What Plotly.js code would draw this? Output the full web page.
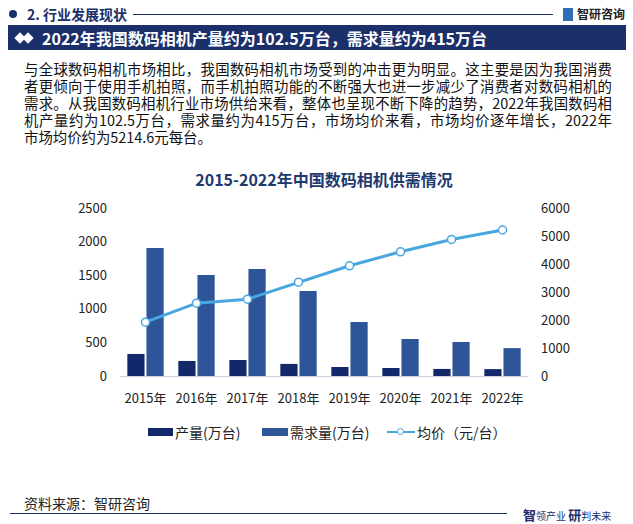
<!DOCTYPE html>
<html>
<head>
<meta charset="utf-8">
<script src="https://cdn.plot.ly/plotly-3.0.1.min.js"></script>
<style>
  body { margin: 0; background: #fff; font-family: "Noto Sans CJK SC", sans-serif; }
  #wrap { position: relative; width: 633px; height: 524px; overflow: hidden; }
  #plot { position: absolute; left: 0; top: 0; width: 633px; height: 524px; }
  .ov { position: absolute; white-space: nowrap; }
  .para div { width: 588px; text-align: justify; text-align-last: justify; }
  .para div.last { text-align-last: left; }
  .lg { position: absolute; top: 423px; font-size: 14px; color: #222; line-height: 18px; white-space: nowrap; }
</style>
</head>
<body>
<div id="wrap">
  <div id="plot"></div>

  <!-- header -->
  <div class="ov" style="left:9px;top:10px;width:8px;height:8px;border-radius:50%;background:#1b2f6b;"></div>
  <div class="ov" style="left:27px;top:4px;font-size:14px;font-weight:bold;color:#1b2f6b;line-height:20px;">2. 行业发展现状</div>
  <div class="ov" style="left:133px;top:14px;width:420px;height:1px;background:#1b2f6b;"></div>
  <div class="ov" style="left:563px;top:8px;width:10px;height:13px;background:#2f6fb8;"></div>
  <div class="ov" style="left:577px;top:5px;font-size:12px;font-weight:bold;color:#222;line-height:18px;">智研咨询</div>

  <div class="ov" style="left:8px;top:25px;width:618px;height:25px;background:#1b2f6b;"></div>
  <div class="ov" style="left:16px;top:34px;width:8px;height:8px;background:#fff;transform:rotate(45deg);"></div>
  <div class="ov" style="left:24px;top:34px;width:8px;height:8px;background:#fff;transform:rotate(45deg);"></div>
  <div class="ov" style="left:42px;top:27px;font-size:16px;font-weight:bold;color:#fff;line-height:22px;">2022年我国数码相机产量约为102.5万台，需求量约为415万台</div>

  <div class="ov para" style="left:24px;top:60px;font-size:14.4px;color:#111;line-height:17.1px;">
    <div>与全球数码相机市场相比，我国数码相机市场受到的冲击更为明显。这主要是因为我国消费</div>
    <div>者更倾向于使用手机拍照，而手机拍照功能的不断强大也进一步减少了消费者对数码相机的</div>
    <div>需求。从我国数码相机行业市场供给来看，整体也呈现不断下降的趋势，2022年我国数码相</div>
    <div>机产量约为102.5万台，需求量约为415万台，市场均价来看，市场均价逐年增长，2022年</div>
    <div class="last">市场均价约为5214.6元每台。</div>
  </div>

  <!-- legend -->
  <div class="ov" style="left:148px;top:428px;width:25px;height:8px;background:#13286b;"></div>
  <div class="lg" style="left:175px;">产量(万台)</div>
  <div class="ov" style="left:262px;top:428px;width:26px;height:8px;background:#2e5597;"></div>
  <div class="lg" style="left:290px;">需求量(万台)</div>
  <div class="ov" style="left:387px;top:431px;width:28px;height:2px;background:#49a7e0;"></div>
  <div class="ov" style="left:397px;top:428px;width:5px;height:5px;border:1.5px solid #49a7e0;border-radius:50%;background:#fff;"></div>
  <div class="lg" style="left:417px;">均价（元/台）</div>

  <!-- footer -->
  <div class="ov" style="left:24px;top:493px;font-size:14px;color:#222;line-height:20px;">资料来源：智研咨询</div>
  <div class="ov" style="left:10px;top:513px;width:497px;height:1px;background:#1b2f6b;"></div>
  <div class="ov" style="left:523px;top:504px;color:#1b2f6b;line-height:18px;"><b style="font-size:13px;">智</b><span style="font-size:10px;">领产业 </span><b style="font-size:13px;">研</b><span style="font-size:10px;">判未来</span></div>
</div>

<script>
// categories and values
const years = ['2015年', '2016年', '2017年', '2018年', '2019年', '2020年', '2021年', '2022年'];
const output = [328, 224, 238, 180, 134, 119, 105, 102.5];       // 产量(万台)
const demand = [1905, 1503, 1592, 1265, 804, 551, 506, 415];     // 需求量(万台)
const avgPrice = [1921, 2601, 2744, 3352, 3936, 4436, 4878, 5214.6]; // 均价(元/台)

const cjk = '"Noto Sans CJK SC", sans-serif';

let trace1 = {
    x: years,
    y: output,
    name: '产量(万台)',
    type: 'bar',
    marker: { color: '#13286b' }
};

let trace2 = {
    x: years,
    y: demand,
    name: '需求量(万台)',
    type: 'bar',
    marker: { color: '#2e5597' }
};

let trace3 = {
    x: years,
    y: avgPrice,
    name: '均价（元/台）',
    type: 'scatter',
    mode: 'lines+markers',
    yaxis: 'y2',
    line: { color: '#49a7e0', width: 3 },
    marker: {
        color: '#fff',
        size: 8,
        line: { color: '#49a7e0', width: 1.5 }
    }
};

let layout = {
    width: 633,
    height: 524,
    margin: { l: 120, r: 105, t: 208, b: 148 },
    paper_bgcolor: 'rgba(0,0,0,0)',
    plot_bgcolor: 'rgba(0,0,0,0)',
    font: { family: cjk, size: 13, color: '#222' },
    title: {
        text: '<b>2015-2022年中国数码相机供需情况</b>',
        font: { size: 16, color: '#1d3a6e' },
        x: 0.5,
        xanchor: 'center',
        xref: 'paper',
        y: 1 - 180 / 524,
        yref: 'container',
        yanchor: 'middle'
    },
    barmode: 'group',
    bargap: 0.25,
    bargroupgap: 0.1,
    xaxis: {
        showline: true,
        linecolor: '#c9d3e0',
        linewidth: 1,
        ticks: '',
        ticklabelstandoff: 10,
        tickfont: { size: 13, color: '#222' }
    },
    yaxis: {
        range: [0, 2500],
        dtick: 500,
        showgrid: false,
        zeroline: false,
        ticks: '',
        ticklabelstandoff: 12,
        tickfont: { size: 13, color: '#222' }
    },
    yaxis2: {
        range: [0, 6000],
        dtick: 1000,
        overlaying: 'y',
        side: 'right',
        showgrid: false,
        zeroline: false,
        ticks: '',
        ticklabelstandoff: 12,
        tickfont: { size: 13, color: '#222' }
    },
    showlegend: false
};

Plotly.newPlot('plot', [trace1, trace2, trace3], layout, { displayModeBar: false, staticPlot: true });
</script>
</body>
</html>
